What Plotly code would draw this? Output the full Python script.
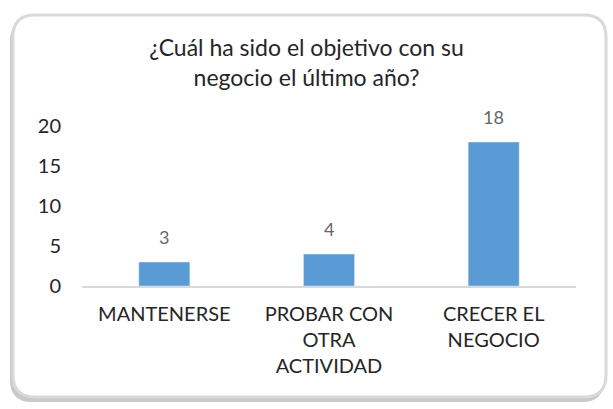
import plotly.graph_objects as go

# chart data
categories = ["MANTENERSE", "PROBAR CON<br>OTRA<br>ACTIVIDAD", "CRECER EL<br>NEGOCIO"]
values = [3, 4, 18]
y_ticks = [0, 5, 10, 15, 20]
title_text = "¿Cuál ha sido el objetivo con su<br>negocio el último año?"

W, H = 613, 409
MARGIN = dict(l=82, r=37, t=126, b=123)
FONT = "Lato, 'Open Sans', sans-serif"
BAR_COLOR = "#5B9BD5"


def to_paper(px, py):
    """Convert pixel position to paper coordinates."""
    pw = W - MARGIN["l"] - MARGIN["r"]
    ph = H - MARGIN["t"] - MARGIN["b"]
    return (px - MARGIN["l"]) / pw, (H - MARGIN["b"] - py) / ph


def rounded_rect(x0, y0, x1, y1, r):
    def p(x, y):
        a, b = to_paper(x, y)
        return f"{a:.4f},{b:.4f}"
    return (
        f"M {p(x0 + r, y0)} L {p(x1 - r, y0)} Q {p(x1, y0)} {p(x1, y0 + r)} "
        f"L {p(x1, y1 - r)} Q {p(x1, y1)} {p(x1 - r, y1)} "
        f"L {p(x0 + r, y1)} Q {p(x0, y1)} {p(x0, y1 - r)} "
        f"L {p(x0, y0 + r)} Q {p(x0, y0)} {p(x0 + r, y0)} Z"
    )


fig = go.Figure(go.Bar(
    x=categories,
    y=values,
    marker_color=BAR_COLOR,
    width=0.31,
    hoverinfo="x+y",
))

# value labels above the bars
for cat, val in zip(categories, values):
    fig.add_annotation(x=cat, y=val, text=str(val), showarrow=False,
                       yanchor="bottom", yshift=12,
                       font=dict(family=FONT, size=18, color="#666666"))

# card shadow + card border
fig.add_shape(type="path", path=rounded_rect(10, 19, 604, 402, 22),
              xref="paper", yref="paper", fillcolor="#c9c9c9",
              line=dict(width=0), layer="below")
fig.add_shape(type="path", path=rounded_rect(13, 15, 606, 397, 22),
              xref="paper", yref="paper", fillcolor="white",
              line=dict(color="#d9d9d9", width=3), layer="below")

fig.update_layout(
    width=W, height=H,
    margin=MARGIN,
    paper_bgcolor="white",
    plot_bgcolor="rgba(0,0,0,0)",
    font=dict(family=FONT, color="#262626"),
    title=dict(text=title_text, x=0.5, xanchor="center", y=0.863, yanchor="top",
               font=dict(family=FONT, size=23, color="#262626")),
    showlegend=False,
)
fig.update_xaxes(showline=True, linecolor="#d9d9d9", linewidth=1.5,
                 showgrid=False, ticks="", ticklabelstandoff=9,
                 tickfont=dict(size=20, color="#262626"))
fig.update_yaxes(range=[0, 20], tickvals=y_ticks, showgrid=False, zeroline=False,
                 showline=False, ticks="", ticklabelstandoff=20,
                 tickfont=dict(size=20, color="#262626"))

fig.write_html("out.html", config={"displayModeBar": False},
               post_script="document.body.style.margin='0';")
